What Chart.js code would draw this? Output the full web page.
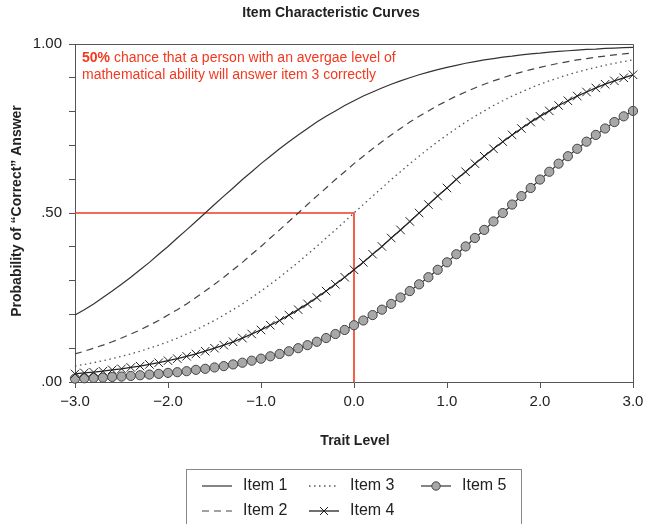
<!DOCTYPE html>
<html>
<head>
<meta charset="utf-8">
<title>Item Characteristic Curves</title>
<script src="https://cdn.jsdelivr.net/npm/chart.js@4/dist/chart.umd.min.js"></script>
<style>
    html, body { margin: 0; padding: 0; background: #fff; }
    canvas { display: block; }
</style>
</head>
<body>
<canvas id="icc" width="651" height="524"></canvas>
<script>
// trait level (theta), step 0.1
const traitLevels = [
    -3.0, -2.9, -2.8, -2.7, -2.6, -2.5, -2.4, -2.3, -2.2, -2.1,
    -2.0, -1.9, -1.8, -1.7, -1.6, -1.5, -1.4, -1.3, -1.2, -1.1,
    -1.0, -0.9, -0.8, -0.7, -0.6, -0.5, -0.4, -0.3, -0.2, -0.1,
    0.0, 0.1, 0.2, 0.3, 0.4, 0.5, 0.6, 0.7, 0.8, 0.9,
    1.0, 1.1, 1.2, 1.3, 1.4, 1.5, 1.6, 1.7, 1.8, 1.9,
    2.0, 2.1, 2.2, 2.3, 2.4, 2.5, 2.6, 2.7, 2.8, 2.9, 3.0
];

const item1 = [
    .198, .214, .231, .250, .269, .289, .310, .332, .354, .378,
    .401, .426, .450, .475, .500, .525, .550, .574, .599, .622,
    .646, .668, .690, .711, .731, .750, .769, .786, .802, .818,
    .832, .846, .858, .870, .881, .891, .900, .909, .917, .924,
    .931, .937, .943, .948, .953, .957, .961, .964, .968, .971,
    .973, .976, .978, .980, .982, .984, .985, .987, .988, .989, .990
];

const item2 = [
    .083, .091, .100, .109, .119, .130, .142, .154, .168, .182,
    .198, .214, .231, .250, .269, .289, .310, .332, .354, .378,
    .401, .426, .450, .475, .500, .525, .550, .574, .599, .622,
    .646, .668, .690, .711, .731, .750, .769, .786, .802, .818,
    .832, .846, .858, .870, .881, .891, .900, .909, .917, .924,
    .931, .937, .943, .948, .953, .957, .961, .964, .968, .971, .973
];

const item3 = [
    .047, .052, .057, .063, .069, .076, .083, .091, .100, .109,
    .119, .130, .142, .154, .168, .182, .198, .214, .231, .250,
    .269, .289, .310, .332, .354, .378, .401, .426, .450, .475,
    .500, .525, .550, .574, .599, .622, .646, .668, .690, .711,
    .731, .750, .769, .786, .802, .818, .832, .846, .858, .870,
    .881, .891, .900, .909, .917, .924, .931, .937, .943, .948, .953
];

const item4 = [
    .024, .027, .029, .032, .036, .039, .043, .047, .052, .057,
    .063, .069, .076, .083, .091, .100, .109, .119, .130, .142,
    .154, .168, .182, .198, .214, .231, .250, .269, .289, .310,
    .332, .354, .378, .401, .426, .450, .475, .500, .525, .550,
    .574, .599, .622, .646, .668, .690, .711, .731, .750, .769,
    .786, .802, .818, .832, .846, .858, .870, .881, .891, .900, .909
];

const item5 = [
    .010, .011, .012, .013, .015, .016, .018, .020, .022, .024,
    .027, .029, .032, .036, .039, .043, .047, .052, .057, .063,
    .069, .076, .083, .091, .100, .109, .119, .130, .142, .154,
    .168, .182, .198, .214, .231, .250, .269, .289, .310, .332,
    .354, .378, .401, .426, .450, .475, .500, .525, .550, .574,
    .599, .622, .646, .668, .690, .711, .731, .750, .769, .786, .802
];

// red guide: average trait level (0.0) -> 50% for item 3
const guideX = [-3.0, 0.0, 0.0];
const guideY = [0.50, 0.50, 0.00];

const xTicks = [-3, -2, -1, 0, 1, 2, 3];
const yLabelled = [0, 0.5, 1];

const SANS = '"Liberation Sans", Arial, Helvetica, sans-serif';
const RED = '#f3391f';
const INK = '#222';

function toPoints(xs, ys) {
    return xs.map((x, i) => ({ x, y: ys[i] }));
}

function formatX(v) {
    return (v < 0 ? '\u2212' : '') + Math.abs(v).toFixed(1);
}

function formatY(v) {
    const s = v.toFixed(2);
    return s.startsWith('0') ? s.slice(1) : s;
}

const lineStyles = [
    { label: 'Item 1', data: item1, color: '#333', dash: [], width: 1.2 },
    { label: 'Item 2', data: item2, color: '#444', dash: [7, 5], width: 1.2 },
    { label: 'Item 3', data: item3, color: '#555', dash: [1.5, 3.5], width: 1.3 },
    { label: 'Item 4', data: item4, color: '#222', dash: [], width: 1.3, marker: 'crossRot' },
    { label: 'Item 5', data: item5, color: '#333', dash: [], width: 1.2, marker: 'circle' }
];

function buildDatasets() {
    const datasets = [];

    for (const s of lineStyles) {
        const ds = {
            label: s.label,
            data: toPoints(traitLevels, s.data),
            borderColor: s.color,
            borderWidth: s.width,
            borderDash: s.dash,
            fill: false,
            tension: 0,
            pointRadius: 0,
            clip: false
        };
        if (s.marker === 'crossRot') {
            ds.pointStyle = 'crossRot';
            ds.pointRadius = 6;
            ds.pointBorderWidth = 1;
            ds.pointBorderColor = '#222';
        } else if (s.marker === 'circle') {
            ds.pointStyle = 'circle';
            ds.pointRadius = 4.6;
            ds.pointBorderWidth = 1;
            ds.pointBorderColor = '#444';
            ds.pointBackgroundColor = '#a8a8a8';
        }
        datasets.push(ds);
    }

    // last dataset is painted first, so the guide sits under the curves
    datasets.push({
        label: 'guide',
        data: toPoints(guideX, guideY),
        borderColor: RED,
        borderWidth: 1.6,
        pointRadius: 0,
        fill: false,
        tension: 0
    });
    return datasets;
}

function drawSample(ctx, s, x0, x1, y) {
    ctx.save();
    ctx.strokeStyle = s.color;
    ctx.lineWidth = s.width;
    ctx.setLineDash(s.dash);
    ctx.beginPath();
    ctx.moveTo(x0, y);
    ctx.lineTo(x1, y);
    ctx.stroke();
    ctx.setLineDash([]);
    const cx = (x0 + x1) / 2;
    if (s.marker === 'circle') {
        ctx.fillStyle = '#a8a8a8';
        ctx.strokeStyle = '#444';
        ctx.lineWidth = 1;
        ctx.beginPath();
        ctx.arc(cx, y, 4.2, 0, Math.PI * 2);
        ctx.fill();
        ctx.stroke();
    } else if (s.marker === 'crossRot') {
        ctx.lineWidth = 1;
        ctx.beginPath();
        ctx.moveTo(cx - 4, y - 4);
        ctx.lineTo(cx + 4, y + 4);
        ctx.moveTo(cx + 4, y - 4);
        ctx.lineTo(cx - 4, y + 4);
        ctx.stroke();
    }
    ctx.restore();
}

const decorations = {
    id: 'decorations',
    afterDraw(chart) {
        const { ctx, chartArea: a } = chart;
        ctx.save();

        // frame top and right
        ctx.strokeStyle = '#555';
        ctx.lineWidth = 1;
        ctx.beginPath();
        ctx.moveTo(a.left, a.top + 0.5);
        ctx.lineTo(a.right + 0.5, a.top + 0.5);
        ctx.lineTo(a.right + 0.5, a.bottom);
        ctx.stroke();

        // title
        ctx.fillStyle = INK;
        ctx.textAlign = 'center';
        ctx.textBaseline = 'alphabetic';
        ctx.font = `bold 14px ${SANS}`;
        ctx.fillText('Item Characteristic Curves', 331, 17);

        // axis titles
        ctx.fillText('Trait Level', 355, 445);
        ctx.save();
        ctx.translate(21, 211);
        ctx.rotate(-Math.PI / 2);
        ctx.fillText('Probability of \u201CCorrect\u201D Answer', 0, 0);
        ctx.restore();

        // annotation
        ctx.fillStyle = RED;
        ctx.textAlign = 'left';
        ctx.font = `bold 14px ${SANS}`;
        const bold = '50%';
        ctx.fillText(bold, 82, 62);
        const bw = ctx.measureText(bold).width;
        ctx.font = `14px ${SANS}`;
        ctx.fillText(' chance that a person with an avergae level of', 82 + bw, 62);
        ctx.fillText('mathematical ability will answer item 3 correctly', 82, 79);

        // legend box
        ctx.strokeStyle = '#888';
        ctx.lineWidth = 1;
        ctx.strokeRect(186.5, 469.5, 335, 70);

        const cols = [202, 309, 421];
        const rows = [486, 511];
        ctx.font = `16px ${SANS}`;
        ctx.fillStyle = INK;
        ctx.textBaseline = 'middle';
        lineStyles.forEach((s, i) => {
            const col = Math.floor(i / 2);
            const row = i % 2;
            const x = cols[col];
            const y = rows[row];
            drawSample(ctx, s, x, x + 30, y);
            ctx.fillText(s.label, x + 41, y);
        });

        ctx.restore();
    }
};

new Chart(document.getElementById('icc'), {
    type: 'line',
    data: { datasets: buildDatasets() },
    options: {
        responsive: false,
        animation: false,
        events: [],
        layout: { padding: { left: 0, top: 44, right: 18, bottom: 0 } },
        plugins: {
            legend: { display: false },
            title: { display: false },
            tooltip: { enabled: false }
        },
        scales: {
            x: {
                type: 'linear',
                min: -3,
                max: 3,
                afterFit: (scale) => { scale.height = 142; },
                afterBuildTicks: (scale) => {
                    scale.ticks = xTicks.map(v => ({ value: v }));
                },
                ticks: {
                    callback: (v) => formatX(v),
                    font: { family: SANS, size: 15 },
                    color: INK,
                    padding: 5,
                    maxRotation: 0
                },
                grid: {
                    drawOnChartArea: false,
                    drawTicks: true,
                    tickLength: 6,
                    tickColor: '#555'
                },
                border: { color: '#555', width: 1 }
            },
            y: {
                min: 0,
                max: 1,
                afterFit: (scale) => { scale.width = 75; },
                ticks: {
                    stepSize: 0.1,
                    autoSkip: false,
                    callback: (v) => yLabelled.some(t => Math.abs(t - v) < 1e-6) ? formatY(v) : '',
                    font: { family: SANS, size: 15 },
                    color: INK,
                    padding: 7
                },
                grid: {
                    drawOnChartArea: false,
                    drawTicks: true,
                    tickLength: 6,
                    tickColor: '#555'
                },
                border: { color: '#555', width: 1 }
            }
        }
    },
    plugins: [decorations]
});
</script>
</body>
</html>
